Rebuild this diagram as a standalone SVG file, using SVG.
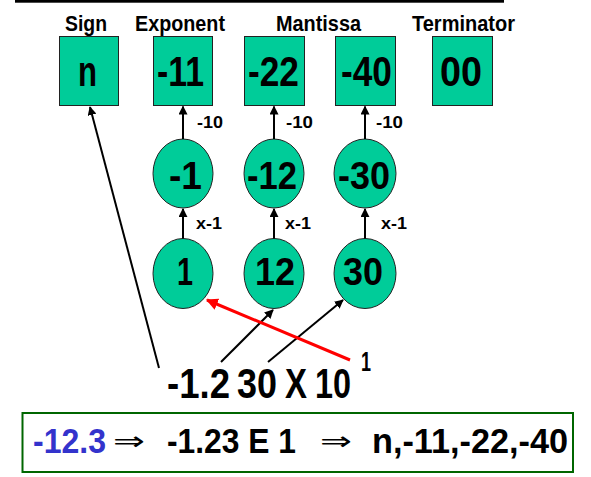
<svg xmlns="http://www.w3.org/2000/svg" width="591" height="477" viewBox="0 0 591 477">
<style>
.t{font-family:"Liberation Sans",Arial,sans-serif;font-weight:bold;fill:#000}
.box{fill:#00CC99;stroke:#222;stroke-width:1}
.ell{fill:#00CC99;stroke:#222;stroke-width:1}
.ln{stroke:#000;stroke-width:2;fill:none}
.red{stroke:#FF0000;stroke-width:3;fill:none}
.arr{font-family:"DejaVu Sans",sans-serif;fill:#000}
</style>
<defs>
<marker id="ah" viewBox="0 0 10 10" refX="9" refY="5" markerWidth="4.5" markerHeight="4.5" orient="auto" markerUnits="strokeWidth">
<path d="M0,0 L10,5 L0,10 z" fill="#000"/>
</marker>
<marker id="ahr" viewBox="0 0 10 10" refX="9" refY="5" markerWidth="4" markerHeight="4" orient="auto" markerUnits="strokeWidth">
<path d="M0,0 L10,5 L0,10 z" fill="#FF0000"/>
</marker>
</defs>
<rect x="0" y="0" width="591" height="477" fill="#fff"/>
<rect x="15" y="0" width="489" height="2.7" fill="#000"/>
<g id="headers">
<text class="t" x="65" y="31" font-size="22" textLength="42" lengthAdjust="spacingAndGlyphs">Sign</text>
<text class="t" x="135" y="31" font-size="22" textLength="90" lengthAdjust="spacingAndGlyphs">Exponent</text>
<text class="t" x="276" y="31" font-size="22" textLength="85" lengthAdjust="spacingAndGlyphs">Mantissa</text>
<text class="t" x="412" y="31" font-size="22" textLength="103" lengthAdjust="spacingAndGlyphs">Terminator</text>
</g>
<g id="box-n"><rect class="box" x="59.5" y="36.5" width="59" height="69"/><text class="t" x="78" y="86" font-size="43" textLength="19" lengthAdjust="spacingAndGlyphs">n</text></g>
<g id="box-11"><rect class="box" x="153.5" y="36.5" width="59" height="69"/><text class="t" x="157" y="86" font-size="43" textLength="47" lengthAdjust="spacingAndGlyphs">-11</text></g>
<g id="box-22"><rect class="box" x="244.5" y="36.5" width="60" height="69"/><text class="t" x="248" y="86" font-size="43" textLength="51" lengthAdjust="spacingAndGlyphs">-22</text></g>
<g id="box-40"><rect class="box" x="335.5" y="36.5" width="60" height="69"/><text class="t" x="341" y="86" font-size="43" textLength="51" lengthAdjust="spacingAndGlyphs">-40</text></g>
<g id="box-00"><rect class="box" x="432.5" y="36.5" width="60" height="69"/><text class="t" x="440" y="86" font-size="43" textLength="42" lengthAdjust="spacingAndGlyphs">00</text></g>
<g id="e-1"><ellipse class="ell" cx="183" cy="173.5" rx="30" ry="34.5"/><text class="t" x="169" y="189" font-size="39" textLength="33" lengthAdjust="spacingAndGlyphs">-1</text></g>
<g id="e-12"><ellipse class="ell" cx="274" cy="173.5" rx="30" ry="34.5"/><text class="t" x="247" y="189" font-size="39" textLength="50" lengthAdjust="spacingAndGlyphs">-12</text></g>
<g id="e-30"><ellipse class="ell" cx="365" cy="173.5" rx="31" ry="34.5"/><text class="t" x="338" y="189" font-size="39" textLength="52" lengthAdjust="spacingAndGlyphs">-30</text></g>
<g id="e1"><ellipse class="ell" cx="183" cy="273.5" rx="30" ry="35"/><text class="t" x="177" y="285" font-size="39" textLength="16" lengthAdjust="spacingAndGlyphs">1</text></g>
<g id="e12"><ellipse class="ell" cx="274" cy="273.5" rx="30" ry="35"/><text class="t" x="255" y="285" font-size="39" textLength="40" lengthAdjust="spacingAndGlyphs">12</text></g>
<g id="e30"><ellipse class="ell" cx="365" cy="273.5" rx="31" ry="35"/><text class="t" x="343" y="285" font-size="39" textLength="40" lengthAdjust="spacingAndGlyphs">30</text></g>
<g id="connectors">
<line class="ln" x1="183" y1="139" x2="183" y2="106.5" marker-end="url(#ah)"/>
<line class="ln" x1="274" y1="139" x2="274" y2="106.5" marker-end="url(#ah)"/>
<line class="ln" x1="365" y1="139" x2="365" y2="106.5" marker-end="url(#ah)"/>
<line class="ln" x1="183" y1="238.5" x2="183" y2="209" marker-end="url(#ah)"/>
<line class="ln" x1="274" y1="238.5" x2="274" y2="209" marker-end="url(#ah)"/>
<line class="ln" x1="365" y1="238.5" x2="365" y2="209" marker-end="url(#ah)"/>
<line class="ln" x1="159" y1="368" x2="90" y2="107" marker-end="url(#ah)"/>
<line class="ln" x1="221" y1="362" x2="273" y2="310" marker-end="url(#ah)"/>
<line class="ln" x1="268" y1="362" x2="343" y2="300" marker-end="url(#ah)"/>
<line class="red" x1="350" y1="360" x2="207" y2="300" marker-end="url(#ahr)"/>
</g>
<g id="labels">
<text class="t" x="197" y="128" font-size="17" textLength="26" lengthAdjust="spacingAndGlyphs">-10</text>
<text class="t" x="286" y="128" font-size="17" textLength="27" lengthAdjust="spacingAndGlyphs">-10</text>
<text class="t" x="376" y="128" font-size="17" textLength="27" lengthAdjust="spacingAndGlyphs">-10</text>
<text class="t" x="196" y="229" font-size="17" textLength="26" lengthAdjust="spacingAndGlyphs">x-1</text>
<text class="t" x="285" y="229" font-size="17" textLength="26" lengthAdjust="spacingAndGlyphs">x-1</text>
<text class="t" x="381" y="229" font-size="17" textLength="26" lengthAdjust="spacingAndGlyphs">x-1</text>
</g>
<g id="expression">
<text class="t" x="167" y="398" font-size="43" textLength="63" lengthAdjust="spacingAndGlyphs">-1.2</text>
<text class="t" x="237" y="398" font-size="43" textLength="40" lengthAdjust="spacingAndGlyphs">30</text>
<text class="t" x="285" y="398" font-size="43" textLength="22" lengthAdjust="spacingAndGlyphs">X</text>
<text class="t" x="315" y="398" font-size="43" textLength="36" lengthAdjust="spacingAndGlyphs">10</text>
<text class="t" x="361" y="371" font-size="28" textLength="10" lengthAdjust="spacingAndGlyphs">1</text>
</g>
<g id="summary">
<rect x="22.5" y="413" width="550.5" height="59" fill="#fff" stroke="#006600" stroke-width="2"/>
<text class="t" x="33" y="453" font-size="35" style="fill:#3333CC" textLength="73" lengthAdjust="spacingAndGlyphs">-12.3</text>
<text class="arr" x="113" y="450" font-size="26" textLength="32" lengthAdjust="spacingAndGlyphs">⇒</text>
<text class="t" x="167" y="453" font-size="35" textLength="129" lengthAdjust="spacingAndGlyphs">-1.23 E 1</text>
<text class="arr" x="320" y="450" font-size="26" textLength="32" lengthAdjust="spacingAndGlyphs">⇒</text>
<text class="t" x="372" y="453" font-size="35" textLength="196" lengthAdjust="spacingAndGlyphs">n,-11,-22,-40</text>
</g>
</svg>
